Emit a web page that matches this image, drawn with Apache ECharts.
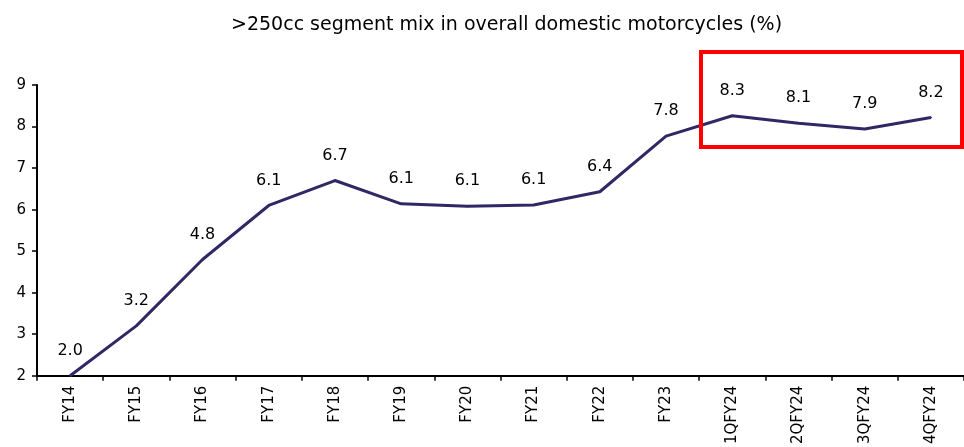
<!DOCTYPE html>
<html>
<head>
    <meta charset="UTF-8">
    <script src="https://cdn.jsdelivr.net/npm/echarts@6/dist/echarts.min.js"></script>
    <style>
        html, body { margin: 0; padding: 0; background: #fff; }
        #chart { width: 964px; height: 447px; }
    </style>
</head>
<body>
    <div id="chart"></div>
    <script>
        var categories = ['FY14', 'FY15', 'FY16', 'FY17', 'FY18', 'FY19', 'FY20', 'FY21', 'FY22', 'FY23',
            '1QFY24', '2QFY24', '3QFY24', '4QFY24'];
        var mixValues = [2.0, 3.2, 4.8, 6.1, 6.7, 6.14, 6.08, 6.11, 6.43, 7.77, 8.26, 8.08, 7.94, 8.22];
        var yTicks = [2, 9, 1]; // min, max, step

        var myChart = echarts.init(document.getElementById('chart'), null, { renderer: 'canvas' });
        var font = 'DejaVu Sans, Verdana, sans-serif';

        var option = {
            animation: false,
            title: {
                text: '>250cc segment mix in overall domestic motorcycles (%)',
                left: 226,
                top: 11,
                textStyle: { fontFamily: font, fontSize: 19, fontWeight: 'normal', color: '#000' }
            },
            grid: {
                left: 37,
                top: 85,
                width: 933,
                height: 291
            },
            xAxis: {
                type: 'category',
                data: categories,
                boundaryGap: true,
                axisLine: { lineStyle: { color: '#000', width: 2 } },
                axisTick: { show: true, length: 5, lineStyle: { color: '#000', width: 1.5 } },
                axisLabel: {
                    rotate: 90,
                    interval: 0,
                    margin: 10,
                    fontFamily: font,
                    fontSize: 15,
                    color: '#000'
                }
            },
            yAxis: {
                type: 'value',
                min: yTicks[0],
                max: yTicks[1],
                interval: yTicks[2],
                axisLine: { show: true, lineStyle: { color: '#000', width: 2 } },
                axisTick: { show: true, length: 5, lineStyle: { color: '#000', width: 1.5 } },
                splitLine: { show: false },
                axisLabel: { fontFamily: font, fontSize: 15, color: '#000', margin: 11 }
            },
            series: [{
                type: 'line',
                data: mixValues,
                showSymbol: true,
                symbol: 'circle',
                symbolSize: 2,
                lineStyle: { color: '#2f2865', width: 3 },
                itemStyle: { color: '#2f2865' },
                label: {
                    show: true,
                    position: 'top',
                    distance: 16,
                    fontFamily: font,
                    fontSize: 16,
                    color: '#000',
                    formatter: function (p) { return p.value.toFixed(1); }
                }
            }],
            graphic: [{
                type: 'rect',
                shape: { x: 701, y: 52, width: 261, height: 95 },
                style: { fill: 'none', stroke: '#ff0000', lineWidth: 4 },
                z: 100
            }]
        };

        myChart.setOption(option);
        window.addEventListener('resize', myChart.resize);
    </script>
</body>
</html>
